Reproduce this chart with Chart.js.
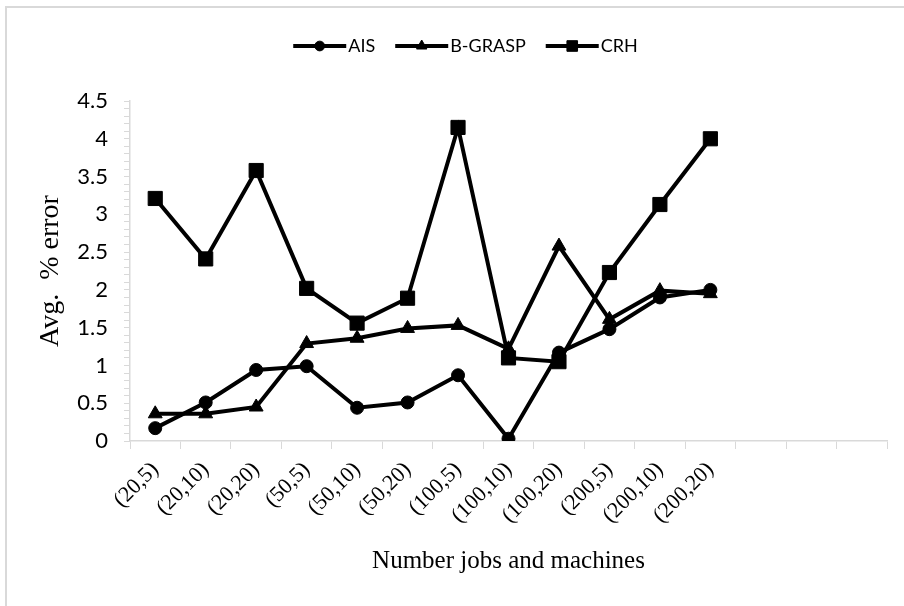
<!DOCTYPE html>
<html>
<head>
<meta charset="utf-8">
<script src="https://cdn.jsdelivr.net/npm/chart.js@4"></script>
<style>
  html, body { margin: 0; padding: 0; background: #fff; }
  #wrap { position: relative; width: 904px; height: 606px; }
  #frame { position: absolute; left: 5px; top: 6px; right: 0; bottom: 0;
           border-top: 2px solid #d9d9d9; border-left: 2px solid #d9d9d9; }
  canvas { position: absolute; left: 0; top: 0; }
</style>
</head>
<body>
<div id="wrap">
  <div id="frame"></div>
  <canvas id="chart" width="904" height="606"></canvas>
</div>
<script>
// Avg. % error per problem size (jobs, machines)
const categories = ['(20,5)', '(20,10)', '(20,20)', '(50,5)', '(50,10)', '(50,20)',
                    '(100,5)', '(100,10)', '(100,20)', '(200,5)', '(200,10)', '(200,20)', '', '', ''];
const aisValues    = [0.17, 0.51, 0.94, 0.99, 0.44, 0.51, 0.87, 0.03, 1.17, 1.48, 1.90, 2.00];
const bgraspValues = [0.36, 0.36, 0.45, 1.29, 1.36, 1.49, 1.53, 1.22, 2.58, 1.61, 1.99, 1.95];
const crhValues    = [3.21, 2.41, 3.58, 2.02, 1.56, 1.89, 4.15, 1.10, 1.05, 2.23, 3.13, 4.00];
const yTicks = [0, 0.5, 1, 1.5, 2, 2.5, 3, 3.5, 4, 4.5];

const sansFont = "Lato, 'Open Sans', sans-serif";
const serifFont = "'Liberation Serif', 'DejaVu Serif', serif";
const axisGray = '#d9d9d9';
const legendShift = 18;
const sampleExtra = 7;

// extra gap under the legend, and shift it a bit right
const legendTweaks = {
    id: 'legendTweaks',
    beforeInit(chart) {
        const legend = chart.legend;
        const fit = legend.fit;
        legend.fit = function() {
            fit.bind(legend)();
            this.height += 36;
        };
        const draw = legend.draw;
        legend.draw = function() {
            const c = chart.ctx;
            c.save();
            c.translate(legendShift, 0);
            draw.bind(legend)();
            c.restore();
        };
    }
};

// longer line sample plus the marker on top of it
const legendMarkers = {
    id: 'legendMarkers',
    afterDraw(chart) {
        const legend = chart.legend;
        if (!legend || !legend.legendHitBoxes) return;
        const ctx = chart.ctx;
        const bw = legend.options.labels.boxWidth;
        const bh = legend.options.labels.boxHeight;
        legend.legendHitBoxes.forEach((box, i) => {
            const ds = chart.data.datasets[i];
            const x0 = box.left + legendShift;
            const cy = box.top + box.height / 2;
            ctx.save();
            ctx.fillStyle = '#000';
            ctx.strokeStyle = '#000';
            ctx.fillRect(x0 + bw - 1, cy - bh / 2, sampleExtra + 1, bh);
            Chart.helpers.drawPoint(ctx, {
                pointStyle: ds.pointStyle,
                radius: ds.pointRadius * 0.75,
                borderWidth: 1
            }, x0 + (bw + sampleExtra) / 2, cy);
            ctx.restore();
        });
    }
};

function makeSet(label, data, style, radius) {
    return {
        label: label,
        data: data,
        borderColor: '#000',
        backgroundColor: '#000',
        borderWidth: 4,
        pointStyle: style,
        pointRadius: radius,
        pointHoverRadius: radius,
        pointBorderWidth: 1,
        pointBackgroundColor: '#000',
        tension: 0
    };
}

const ctx = document.getElementById('chart').getContext('2d');
new Chart(ctx, {
    type: 'line',
    data: {
        labels: categories,
        datasets: [
            makeSet('AIS', aisValues, 'circle', 6.5),
            makeSet('B-GRASP', bgraspValues, 'triangle', 8),
            makeSet('CRH', crhValues, 'rect', 10)
        ]
    },
    options: {
        responsive: false,
        animation: false,
        layout: { padding: { left: 8, right: 17, top: 17, bottom: 0 } },
        plugins: {
            legend: {
                position: 'top',
                labels: {
                    color: '#000',
                    font: { family: sansFont, size: 18 },
                    boxWidth: 46,
                    boxHeight: 4,
                    padding: 20,
                    generateLabels(chart) {
                        return chart.data.datasets.map((ds, i) => ({
                            text: ds.label,
                            fillStyle: '#000',
                            strokeStyle: '#000',
                            lineWidth: 0,
                            datasetIndex: i,
                            fontColor: '#000'
                        }));
                    }
                }
            },
            tooltip: { enabled: false }
        },
        scales: {
            x: {
                offset: true,
                afterFit(scale) { scale.height = 165; },
                border: { color: axisGray, width: 1.5 },
                grid: { offset: true, drawOnChartArea: false, color: axisGray, tickLength: 8 },
                ticks: {
                    color: '#000',
                    font: { family: serifFont, size: 22 },
                    maxRotation: 45,
                    minRotation: 45,
                    autoSkip: false,
                    padding: 8
                },
                title: {
                    display: true,
                    text: 'Number jobs and machines',
                    color: '#000',
                    font: { family: serifFont, size: 25 },
                    padding: { top: 0, bottom: 30 }
                }
            },
            y: {
                min: yTicks[0],
                max: yTicks[yTicks.length - 1],
                afterFit(scale) { scale.width = 122; },
                border: { color: axisGray, width: 1.5 },
                grid: { drawOnChartArea: false, color: axisGray, tickLength: 6 },
                ticks: {
                    stepSize: 0.1,
                    autoSkip: false,
                    color: '#000',
                    font: { family: sansFont, size: 22 },
                    padding: 16,
                    callback(v) {
                        const hit = yTicks.find(t => Math.abs(t - v) < 1e-6);
                        return hit === undefined ? '' : String(hit);
                    }
                },
                title: {
                    display: true,
                    text: 'Avg.  % error',
                    color: '#000',
                    font: { family: serifFont, size: 28 },
                    padding: { top: 26, bottom: 0 }
                }
            }
        }
    },
    plugins: [legendTweaks, legendMarkers]
});
</script>
</body>
</html>
